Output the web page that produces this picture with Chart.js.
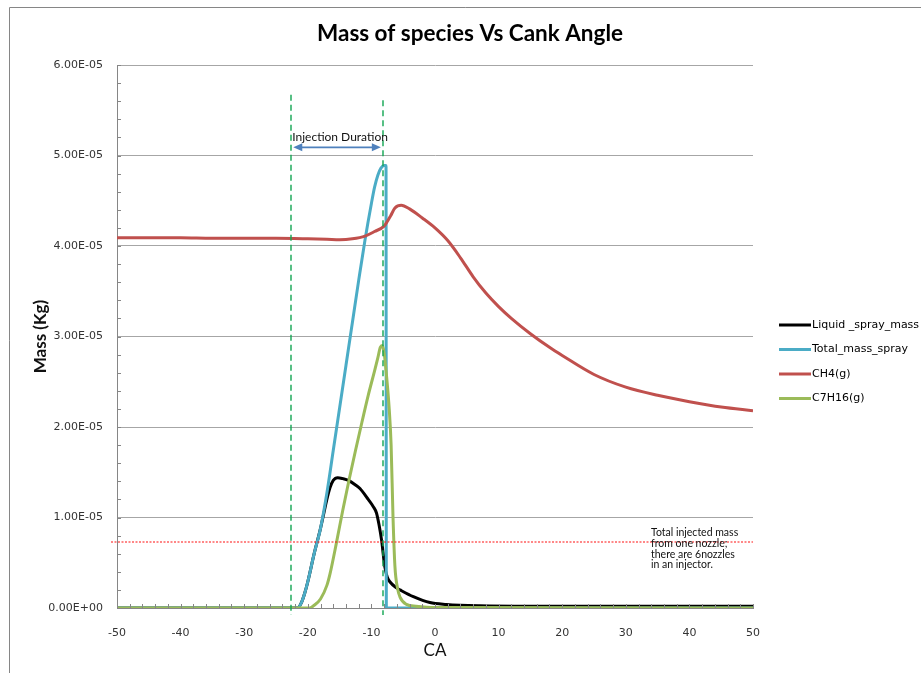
<!DOCTYPE html>
<html>
<head>
<meta charset="utf-8">
<script src="https://cdn.jsdelivr.net/npm/chart.js@4"></script>
<style>
  html, body { margin: 0; padding: 0; background: #fff; }
  #wrap { width: 921px; height: 673px; }
</style>
</head>
<body>
<div id="wrap"><canvas id="massChart" width="921" height="673"></canvas></div>
<script>
// crank angle (deg) and mass (x1e-5 kg) for each species
const liquidCA = [-50, -21.6, -21, -20.5, -20, -19, -18, -17.5, -17, -16.5, -16, -15.3, -14.5, -13.6, -12.5, -11.8, -10.5, -9.7, -9.2, -8.8, -8.4, -7.9, -7.5, -7.1, -6, -5.5, -3.4, -0.8, 1.8, 7, 15, 30, 50]
const liquidMass = [0, 0, 0.06, 0.16, 0.29, 0.6, 0.88, 1.04, 1.2, 1.33, 1.41, 1.44, 1.43, 1.41, 1.36, 1.32, 1.2, 1.12, 1.05, 0.92, 0.75, 0.46, 0.34, 0.29, 0.22, 0.2, 0.125, 0.06, 0.04, 0.025, 0.02, 0.02, 0.02]

const totalCA = [-50, -21.6, -21, -20.5, -20, -19, -18, -17, -16, -15, -14, -13, -12, -11, -10, -9.5, -9, -8.5, -8, -7.7, -7.65, 50]
const totalMass = [0, 0, 0.06, 0.16, 0.29, 0.6, 0.88, 1.27, 1.74, 2.21, 2.68, 3.15, 3.62, 4.07, 4.47, 4.65, 4.78, 4.86, 4.89, 4.89, 0, 0]

const ch4CA = [-50, -45, -40, -35, -30, -25, -20, -17, -15, -13, -11, -9.5, -8, -7.5, -7, -6.3, -5.3, -4, -2, 0, 2, 4, 6, 8, 10, 12, 15, 18, 20, 25, 30, 35, 40, 45, 50]
const ch4Mass = [4.09, 4.09, 4.09, 4.085, 4.085, 4.085, 4.08, 4.075, 4.07, 4.08, 4.11, 4.16, 4.22, 4.27, 4.33, 4.42, 4.45, 4.41, 4.31, 4.2, 4.06, 3.87, 3.66, 3.48, 3.33, 3.2, 3.03, 2.88, 2.79, 2.58, 2.44, 2.35, 2.28, 2.22, 2.18]

const c7CA = [-50, -19.7, -19, -18, -17, -16.5, -15.5, -14.5, -13.5, -12.5, -11.5, -10.5, -9.5, -9, -8.6, -8.3, -8, -7.6, -7.2, -6.9, -6.6, -6.3, -5.9, -5.5, -4.5, -3, 0, 50]
const c7Mass = [0, 0, 0.03, 0.1, 0.25, 0.38, 0.72, 1.08, 1.42, 1.74, 2.05, 2.35, 2.62, 2.76, 2.88, 2.9, 2.82, 2.55, 2.2, 1.8, 1.0, 0.46, 0.22, 0.12, 0.04, 0.02, 0.005, 0]

const seriesNames = ['Liquid _spray_mass', 'Total_mass_spray', 'CH4(g)', 'C7H16(g)']
const seriesColors = ['#000000', '#4bacc6', '#c0504d', '#9bbb59']

const yTicks = [0, 1e-5, 2e-5, 3e-5, 4e-5, 5e-5, 6e-5]
const xTicks = [-50, -40, -30, -20, -10, 0, 10, 20, 30, 40, 50]

// markers drawn over the plot
const injectionStart = -22.6
const injectionEnd = -8.2
const injectedMass = 7.3e-6
const noteLines = ['Total injected mass', 'from one nozzle;', 'there are 6nozzles', 'in an injector.']

function pts(ca, m) {
  return ca.map((x, i) => ({ x: x, y: m[i] * 1e-5 }))
}

function sci(v) {
  if (Math.abs(v) < 1e-12) return '0.00E+00'
  let e = Math.floor(Math.log10(Math.abs(v)))
  let m = v / Math.pow(10, e)
  if (Math.abs(m) >= 9.995) { m /= 10; e++ }
  return m.toFixed(2) + 'E' + (e < 0 ? '-' : '+') + String(Math.abs(e)).padStart(2, '0')
}

function isMajorY(v) {
  return yTicks.some(t => Math.abs(t - v) < 1e-9)
}

const overlay = {
  id: 'overlay',
  beforeDraw(chart) {
    const c = chart.ctx
    c.save()
    c.fillStyle = '#fff'
    c.fillRect(0, 0, chart.width, chart.height)
    c.strokeStyle = '#868686'
    c.lineWidth = 1
    c.beginPath()
    c.moveTo(9.5, 700)
    c.lineTo(9.5, 7.5)
    c.lineTo(930, 7.5)
    c.stroke()
    c.restore()
  },
  afterDatasetsDraw(chart) {
    const c = chart.ctx, x = chart.scales.x, y = chart.scales.y
    c.save()
    // injected mass line
    c.strokeStyle = '#ff1010'
    c.lineWidth = 1.2
    c.setLineDash([2, 1.5])
    let yy = Math.round(y.getPixelForValue(injectedMass))
    c.beginPath()
    c.moveTo(x.left - 6, yy)
    c.lineTo(x.right, yy)
    c.stroke()

    // injection window
    c.strokeStyle = '#11a552'
    c.lineWidth = 1.4
    c.setLineDash([6, 4])
    ;[[injectionStart, 5.67e-5], [injectionEnd, 5.61e-5]].forEach(([a, top]) => {
      const px = Math.round(x.getPixelForValue(a))
      c.beginPath()
      c.moveTo(px, y.getPixelForValue(top))
      c.lineTo(px, y.bottom + 7)
      c.stroke()
    })
    c.setLineDash([])

    // double arrow
    const ay = y.getPixelForValue(5.09e-5)
    const a0 = x.getPixelForValue(injectionStart) + 2, a1 = x.getPixelForValue(injectionEnd) - 2
    c.strokeStyle = '#4f81bd'
    c.fillStyle = '#4f81bd'
    c.lineWidth = 1.6
    c.beginPath()
    c.moveTo(a0 + 6, ay)
    c.lineTo(a1 - 6, ay)
    c.stroke()
    c.beginPath()
    c.moveTo(a0, ay); c.lineTo(a0 + 9, ay - 4); c.lineTo(a0 + 9, ay + 4); c.closePath()
    c.moveTo(a1, ay); c.lineTo(a1 - 9, ay - 4); c.lineTo(a1 - 9, ay + 4); c.closePath()
    c.fill()

    c.fillStyle = '#111'
    c.font = '12px Lato'
    c.textAlign = 'center'
    c.textBaseline = 'alphabetic'
    c.fillText('Injection Duration', (a0 + a1) / 2 + 3, ay - 6)

    c.textAlign = 'left'
    c.font = '10.5px Lato'
    noteLines.forEach((t, i) => c.fillText(t, 651, 536 + i * 10.8))
    c.restore()
  },
  afterDraw(chart) {
    const c = chart.ctx, x = chart.scales.x, y = chart.scales.y
    c.save()
    // minor tick marks inside the axes
    c.strokeStyle = '#868686'
    c.lineWidth = 1
    c.beginPath()
    y.ticks.forEach(t => {
      const py = Math.round(y.getPixelForValue(t.value)) + 0.5
      c.moveTo(x.left, py)
      c.lineTo(x.left + 4, py)
    })
    x.ticks.forEach(t => {
      const px = Math.round(x.getPixelForValue(t.value)) + 0.5
      c.moveTo(px, y.bottom)
      c.lineTo(px, y.bottom - 4)
    })
    c.stroke()

    // title
    c.fillStyle = '#000'
    c.font = 'bold 22.5px Lato'
    c.textAlign = 'center'
    c.textBaseline = 'middle'
    c.fillText('Mass of species Vs Cank Angle', 470, 34)

    // legend
    c.textAlign = 'left'
    c.font = '11px "DejaVu Sans"'
    chart.data.datasets.forEach((ds, i) => {
      const ly = 325 + i * 24.5
      c.strokeStyle = ds.borderColor
      c.lineWidth = 3
      c.beginPath()
      c.moveTo(779, ly)
      c.lineTo(811, ly)
      c.stroke()
      c.fillStyle = '#000'
      c.fillText(ds.label, 812, ly)
    })
    c.restore()
  }
}

const datasets = [
  pts(liquidCA, liquidMass),
  pts(totalCA, totalMass),
  pts(ch4CA, ch4Mass),
  pts(c7CA, c7Mass)
].map((d, i) => ({
  label: seriesNames[i],
  data: d,
  borderColor: seriesColors[i],
  backgroundColor: seriesColors[i],
  borderWidth: 3,
  pointRadius: 0,
  cubicInterpolationMode: 'monotone',
  order: 3 - i
}))

new Chart(document.getElementById('massChart'), {
  type: 'line',
  data: { datasets: datasets },
  options: {
    responsive: false,
    animation: false,
    devicePixelRatio: 1,
    layout: { padding: { left: 0, top: 65, right: 168, bottom: 0 } },
    plugins: { legend: { display: false }, tooltip: { enabled: false } },
    scales: {
      x: {
        type: 'linear',
        min: -50,
        max: 50,
        afterFit: s => { s.height = 65 },
        grid: { display: false },
        border: { display: true, color: '#868686', width: 1 },
        ticks: {
          stepSize: 2,
          autoSkip: false,
          maxRotation: 0,
          padding: 11,
          color: '#333',
          font: { family: 'DejaVu Sans', size: 11 },
          callback: v => xTicks.includes(v) ? String(v) : ''
        },
        title: { display: true, text: 'CA', color: '#111', font: { family: 'Lato', size: 17 }, padding: { top: 0, bottom: 12 } }
      },
      y: {
        min: 0,
        max: 6e-5,
        afterFit: s => { s.width = 117 },
        grid: {
          drawTicks: false,
          color: ctx => isMajorY(ctx.tick.value) ? '#a6a6a6' : 'rgba(0,0,0,0)'
        },
        border: { display: true, color: '#868686', width: 1 },
        ticks: {
          stepSize: 2e-6,
          autoSkip: false,
          padding: 14,
          color: '#333',
          font: { family: 'DejaVu Sans', size: 11 },
          callback: v => isMajorY(v) ? sci(v) : ''
        },
        title: { display: true, text: 'Mass (Kg)', color: '#111', font: { family: 'Lato', size: 17, weight: 'bold' }, padding: { top: 30 } }
      }
    }
  },
  plugins: [overlay]
})
</script>
</body>
</html>
